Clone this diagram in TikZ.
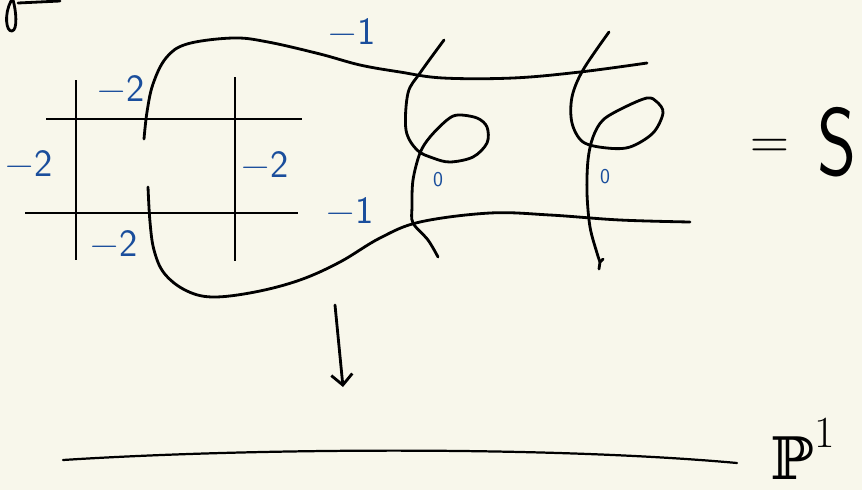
\documentclass[tikz,border=0pt]{standalone}
\usepackage{fontspec}
\newfontfamily\dsfont{DejaVu Serif}
\usetikzlibrary{arrows.meta}
\definecolor{paper}{HTML}{F8F7EB}
\definecolor{ink}{HTML}{1A4E9C}
\tikzstyle{stroke} = [
    black,
    line width=2.4pt,
    line cap=round,
    line join=round
]
\tikzstyle{gridline} = [
    black,
    line width=1.7pt
]
\tikzstyle{weight} = [
    text=ink,
    inner sep=0pt,
    font=\sffamily\fontsize{33}{35}\selectfont
]
\tikzstyle{zero} = [
    text=ink,
    inner sep=0pt,
    font=\sffamily\fontsize{18}{19}\selectfont
]
\tikzstyle{arrow} = [stroke,-{Straight Barb[length=9pt,width=18pt]}]

\begin{document}
\begin{tikzpicture}[x=0.03cm, y=-0.03cm]

\useasboundingbox (0,0) rectangle (862,490);
\fill [paper] (0,0) rectangle (862,490);

% cut-off scribble in the corner
\draw [stroke] (11,1) .. controls (4,14) and (6,32) .. (12,31)
    .. controls (18,30) and (16,10) .. (13,0);
\draw [stroke] (18,3) -- (60,1);

% the square of -2 curves
\draw [gridline] (46,119) -- (302,119);
\draw [gridline] (25,213) -- (298,213);
\draw [gridline] (76,80) -- (76,260);
\draw [gridline] (235,77) -- (235,261);

\node (wtop) [weight] at (121,89) {−2};
\node (wleft) [weight] at (29,164) {−2};
\node (wright) [weight] at (265,165) {−2};
\node (wbot) [weight] at (114,244) {−2};

% the two sections
\draw [stroke] plot [smooth, tension=0.6] coordinates {
    (144,139) (147,112) (153,84) (166,58) (187,44) (233,38) (268,42)
    (320,54) (360,65) (400,72) (443,78) (513,78) (580,72) (647,63)};
\draw [stroke] plot [smooth, tension=0.6] coordinates {
    (148,187) (150,222) (154,250) (164,273) (185,290) (212,297)
    (255,292) (300,280) (340,262) (380,238) (420,222) (490,213)
    (550,215) (620,220) (690,222)};

\node (stop) [weight] at (352,32) {−1};
\node (sbot) [weight] at (350,211) {−1};

% nodal fibres
\draw [stroke] plot [smooth, tension=0.55] coordinates {
    (444,40) (420,73) (408,93) (406,130) (417,150) (433,158) (450,162)
    (473,157) (487,143) (487,127) (477,118) (458,115) (447,120)
    (430,137) (420,153) (413,180) (412,207) (413,223) (428,240)
    (438,257)};
\draw [stroke] plot [smooth, tension=0.55] coordinates {
    (609,32) (583,70) (572,97) (572,123) (583,142) (607,148) (630,147)
    (653,133) (663,113) (657,102) (647,98) (623,108) (603,120)
    (593,137) (588,160) (587,193) (590,227) (597,253) (600,262)};
\draw [stroke] (600,262) -- (603,259) (600,262) -- (599,269);

\node (fa) [zero] at (438,180) {0};
\node (fb) [zero] at (605,177) {0};

\node (eq) [inner sep=0pt, font=\fontsize{46}{48}\selectfont] at (770,149) {=};
\node (surf) [inner sep=0pt, anchor=base west, xscale=0.78,
    font=\sffamily\fontsize{82}{82}\selectfont] at (817,175) {S};

% the fibration
\coordinate (maptop) at (335,305);
\coordinate (mapend) at (343,387);
\draw [arrow] (maptop) -- (mapend);

\coordinate (baseL) at (63,460);
\coordinate (baseR) at (737,463);
\draw [stroke, line width=1.9pt] (baseL) .. controls (250,448) and (550,446) .. (baseR);

\node (line) [inner sep=0pt, anchor=base west,
    font=\dsfont\fontsize{50}{52}\selectfont] at (770,479) {ℙ};
\node (lineexp) [inner sep=0pt, anchor=base west,
    font=\fontsize{38}{40}\selectfont] at (line.base east) [yshift=0.95cm] {1};

\end{tikzpicture}
\end{document}
